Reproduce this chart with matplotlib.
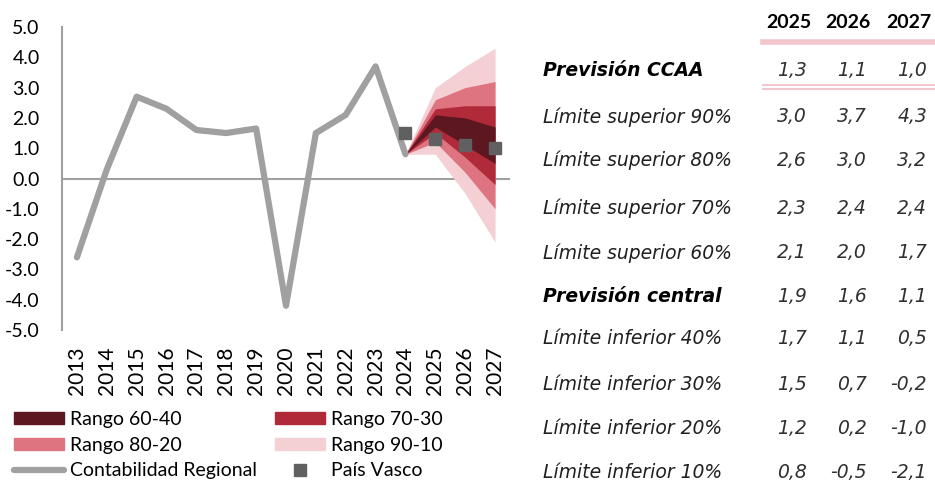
import matplotlib.pyplot as plt
import matplotlib.patches as mpatches
import matplotlib.lines as mlines

plt.rcParams['font.family'] = ['Lato', 'DejaVu Sans']

# historical series
years = ['2013', '2014', '2015', '2016', '2017', '2018', '2019', '2020',
         '2021', '2022', '2023', '2024', '2025', '2026', '2027']
contabilidad = [-2.6, 0.3, 2.7, 2.3, 1.6, 1.5, 1.65, -4.2, 1.5, 2.1, 3.7, 0.8]
pais_vasco_years = ['2024', '2025', '2026', '2027']
pais_vasco = [1.5, 1.3, 1.1, 1.0]

# fan chart (starting from last observed value 2024)
fan_years = ['2024', '2025', '2026', '2027']
sup90 = [0.8, 3.0, 3.7, 4.3]
sup80 = [0.8, 2.6, 3.0, 3.2]
sup70 = [0.8, 2.3, 2.4, 2.4]
sup60 = [0.8, 2.1, 2.0, 1.7]
central = [0.8, 1.9, 1.6, 1.1]
inf40 = [0.8, 1.7, 1.1, 0.5]
inf30 = [0.8, 1.5, 0.7, -0.2]
inf20 = [0.8, 1.2, 0.2, -1.0]
inf10 = [0.8, 0.8, -0.5, -2.1]

# table
table_years = ['2025', '2026', '2027']
table_rows = ['Previsión CCAA', 'Límite superior 90%', 'Límite superior 80%',
              'Límite superior 70%', 'Límite superior 60%', 'Previsión central',
              'Límite inferior 40%', 'Límite inferior 30%', 'Límite inferior 20%',
              'Límite inferior 10%']
table_vals = [['1,3', '1,1', '1,0'], ['3,0', '3,7', '4,3'], ['2,6', '3,0', '3,2'],
              ['2,3', '2,4', '2,4'], ['2,1', '2,0', '1,7'], ['1,9', '1,6', '1,1'],
              ['1,7', '1,1', '0,5'], ['1,5', '0,7', '-0,2'], ['1,2', '0,2', '-1,0'],
              ['0,8', '-0,5', '-2,1']]
bold_rows = ['Previsión CCAA', 'Previsión central']

c6040 = '#5c1720'
c7030 = '#b02a3a'
c8020 = '#de7480'
c9010 = '#f4d0d5'
gray = '#a0a0a0'
pink = '#f2c6cc'

W, H = 935, 483
fig = plt.figure(figsize=(W / 100, H / 100), dpi=100)
ax = fig.add_axes([62 / W, 1 - 330 / H, (510 - 62) / W, (330 - 27) / H])

xi = {y: i for i, y in enumerate(years)}
fx = [xi[y] for y in fan_years]
ax.fill_between(fx, inf10, sup90, color=c9010, lw=0)
ax.fill_between(fx, inf20, sup80, color=c8020, lw=0)
ax.fill_between(fx, inf30, sup70, color=c7030, lw=0)
ax.fill_between(fx, inf40, sup60, color=c6040, lw=0)

ax.plot(range(len(contabilidad)), contabilidad, color=gray, lw=4.5,
        solid_capstyle='round', solid_joinstyle='round')
ax.plot([xi[y] for y in pais_vasco_years], pais_vasco, ls='none', marker='s',
        ms=9, color='#606060')

ax.axhline(0, color=gray, lw=1.5, zorder=0)
ax.set_xlim(-0.5, len(years) - 0.5)
ax.set_ylim(-5, 5)
ax.set_yticks(range(-5, 6))
ax.set_yticklabels([f'{v:.1f}' for v in range(-5, 6)])
ax.set_xticks(range(len(years)))
ax.set_xticklabels(years, rotation=90)
for s in ['top', 'right', 'bottom']:
    ax.spines[s].set_visible(False)
ax.spines['left'].set_color(gray)
ax.spines['left'].set_linewidth(1.5)
ax.tick_params(axis='y', length=0, pad=16, labelsize=14)
ax.tick_params(axis='x', length=0, pad=12, labelsize=15)

handles = [mpatches.Patch(color=c6040), mpatches.Patch(color=c8020),
           mlines.Line2D([], [], color=gray, lw=4.5, solid_capstyle='round'),
           mpatches.Patch(color=c7030), mpatches.Patch(color=c9010),
           mlines.Line2D([], [], color='#606060', marker='s', ls='none', ms=9)]
labels = ['Rango 60-40', 'Rango 80-20', 'Contabilidad Regional',
          'Rango 70-30', 'Rango 90-10', 'País Vasco']
fig.legend(handles, labels, ncol=2, loc='upper left',
           bbox_to_anchor=(6 / W, 1 - 403 / H), frameon=False, fontsize=14,
           handlelength=2.6, handleheight=0.55, handletextpad=0.3,
           labelspacing=0.45, columnspacing=0.9, borderaxespad=0)

# table on the right
tfont = ['DejaVu Sans']
col_x = [807, 867, 927]
for x, y in zip(col_x, table_years):
    fig.text((x + 4) / W, 1 - 22 / H, y, ha='right', va='center',
             fontsize=14, fontweight='bold')
row_y = [71, 117, 160, 208, 253, 296, 339, 384, 429, 472]
for ry, name, vals in zip(row_y, table_rows, table_vals):
    bold = name in bold_rows
    fig.text(543 / W, 1 - ry / H, name, ha='left', va='center', fontsize=13.5,
             style='italic', fontweight='bold' if bold else 'normal',
             family=tfont, color='black' if bold else '#202020')
    for x, v in zip(col_x, vals):
        fig.text(x / W, 1 - ry / H, v, ha='right', va='center', fontsize=13.5,
                 style='italic', color='#303030', family=tfont)

fig.add_artist(mlines.Line2D([763 / W, 1], [1 - 42 / H] * 2, color=pink, lw=4))
fig.add_artist(mlines.Line2D([763 / W, 1], [1 - 85 / H] * 2, color=pink, lw=1.5))
fig.add_artist(mlines.Line2D([763 / W, 1], [1 - 89 / H] * 2, color=pink, lw=1.5))

fig.savefig('out.png', dpi=100)
